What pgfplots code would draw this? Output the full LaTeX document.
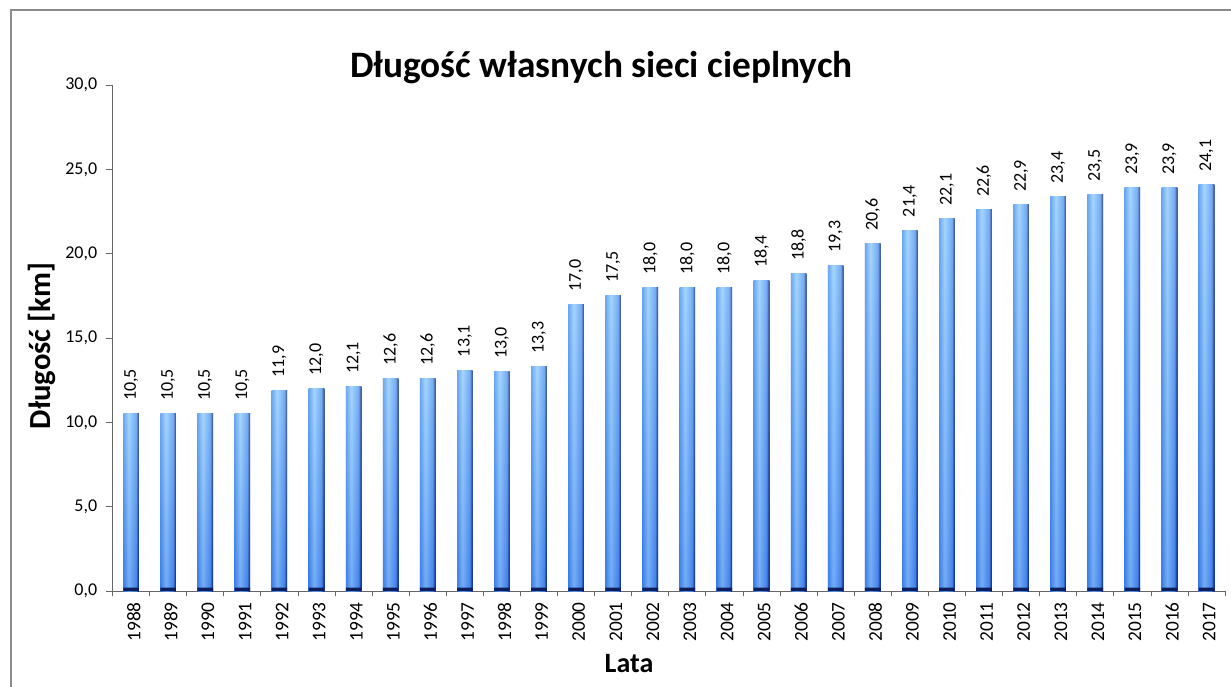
\documentclass[border=0pt]{standalone}
\usepackage{pgfplots}
\pgfplotsset{compat=1.18}
\usepackage{pgfplotstable}
\usepackage{fontspec}
\setmainfont{Carlito}
\definecolor{barL}{RGB}{70,140,235}
\definecolor{barM}{RGB}{150,205,252}
\definecolor{barL2}{RGB}{80,145,240}
\definecolor{barR}{RGB}{20,40,120}
\definecolor{ovTop}{RGB}{200,235,255}
\definecolor{ovBot}{RGB}{35,95,225}
\definecolor{barBase}{RGB}{15,30,90}
\definecolor{frameGray}{RGB}{140,140,140}
\pgfdeclarehorizontalshading{barshade}{100bp}{color(0bp)=(barL); color(25bp)=(barL); color(42bp)=(barM); color(66bp)=(barL2); color(72bp)=(barR); color(75bp)=(barR); color(100bp)=(barR)}
\pgfplotstableread{
idx year val
0 1988 10.5
1 1989 10.5
2 1990 10.5
3 1991 10.5
4 1992 11.9
5 1993 12.0
6 1994 12.1
7 1995 12.6
8 1996 12.6
9 1997 13.1
10 1998 13.0
11 1999 13.3
12 2000 17.0
13 2001 17.5
14 2002 18.0
15 2003 18.0
16 2004 18.0
17 2005 18.4
18 2006 18.8
19 2007 19.3
20 2008 20.6
21 2009 21.4
22 2010 22.1
23 2011 22.6
24 2012 22.9
25 2013 23.4
26 2014 23.5
27 2015 23.9
28 2016 23.9
29 2017 24.1
}\datatable
\pgfplotstableread{
idx base
0 0.2
1 0.2
2 0.2
3 0.2
4 0.2
5 0.2
6 0.2
7 0.2
8 0.2
9 0.2
10 0.2
11 0.2
12 0.2
13 0.2
14 0.2
15 0.2
16 0.2
17 0.2
18 0.2
19 0.2
20 0.2
21 0.2
22 0.2
23 0.2
24 0.2
25 0.2
26 0.2
27 0.2
28 0.2
29 0.2
}\basetable
\begin{document}
\begin{tikzpicture}
\useasboundingbox (0,0) rectangle (923.25pt,514.5pt);
\fill[white] (0,0) rectangle (923.25pt,514.5pt);
\draw[frameGray, line width=0.8pt] (8.25pt,-5pt) -- (8.25pt,507pt) -- (930pt,507pt);
\begin{axis}[
  at={(84.4pt,71.25pt)}, anchor=south west,
  width=834.4pt, height=379.5pt, scale only axis,
  ybar, bar width=11.7pt,
  xmin=-0.5, xmax=29.5, ymin=0, ymax=30,
  axis x line=bottom, axis y line=left,
  axis line style={-, gray!80!black, line width=0.6pt},
  xtick={0,...,29},
  xticklabels={1988,1989,1990,1991,1992,1993,1994,1995,1996,1997,1998,1999,2000,2001,2002,2003,2004,2005,2006,2007,2008,2009,2010,2011,2012,2013,2014,2015,2016,2017},
  major x tick style={draw=none},
  minor xtick={-0.5,0.5,...,29.5},
  minor x tick style={gray!80!black, line width=0.6pt},
  minor tick length=4pt,
  major tick length=5pt,
  tick align=outside,
  ytick={0,5,...,30},
  y tick style={gray!80!black, line width=0.6pt},
  x tick label style={rotate=90, anchor=east, font=\fontsize{14.5}{16}\selectfont, yshift=-2pt},
  y tick label style={font=\fontsize{13.5}{16}\selectfont, xshift=-3pt},
  /pgf/number format/.cd, fixed, fixed zerofill, precision=1, use comma, assume math mode=true,
]
\pgfplotsinvokeforeach{0,...,29}{
  \addplot[draw=none, shading=barshade, bar shift=0pt,
    restrict x to domain=#1:#1,
    nodes near coords,
    every node near coord/.append style={rotate=90, anchor=west, font=\fontsize{13.5}{15}\selectfont, black, fill opacity=1, inner sep=0pt, xshift=9.5pt}]
    table[x=idx, y=val] {\datatable};
  \addplot[draw=none, top color=ovTop, bottom color=ovBot, fill opacity=0.3, bar shift=0pt,
    restrict x to domain=#1:#1]
    table[x=idx, y=val] {\datatable};
}
\addplot[draw=none, fill=barBase, bar shift=0pt] table[x=idx, y=base] {\basetable};
\end{axis}
\node[font=\bfseries\fontsize{28}{32}\selectfont] at (451pt,463.5pt) {Długość własnych sieci cieplnych};
\node[font=\bfseries\fontsize{23}{27}\selectfont, rotate=90] at (31.5pt,255pt) {Długość [km]};
\node[font=\bfseries\fontsize{21}{25}\selectfont] at (471.75pt,16.5pt) {Lata};
\end{tikzpicture}
\end{document}
